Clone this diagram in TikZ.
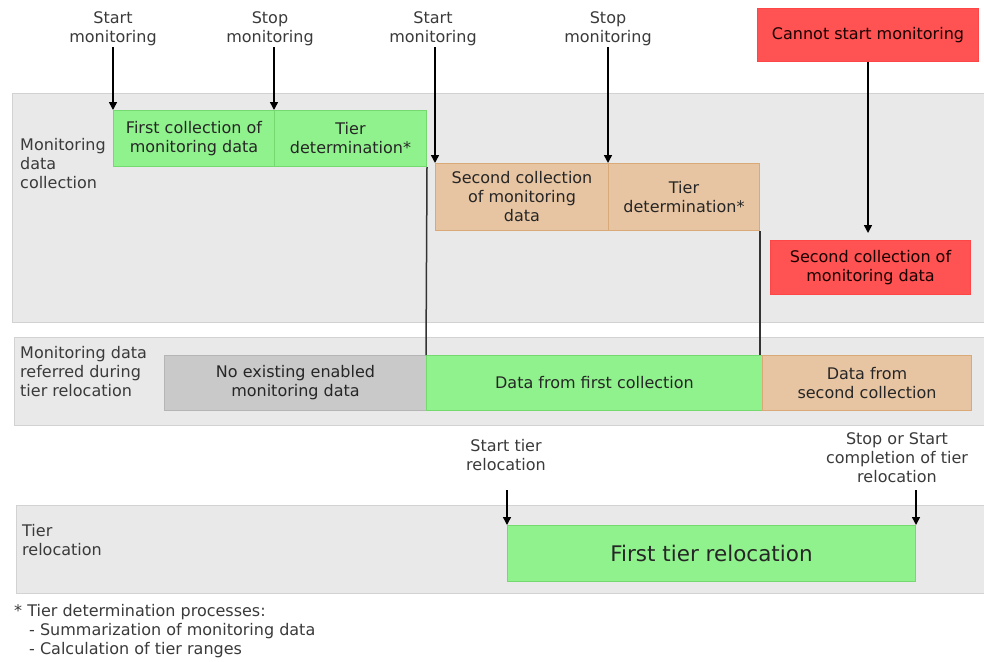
\documentclass[tikz,border=0pt]{standalone}
\usepackage{fontspec}
\setmainfont{DejaVu Sans}
\usetikzlibrary{arrows.meta}
\definecolor{bandfill}{HTML}{E9E9E9}
\definecolor{banddraw}{HTML}{D2D2D2}
\definecolor{gfill}{HTML}{90F28C}
\definecolor{gdraw}{HTML}{74DA70}
\definecolor{tfill}{HTML}{E8C5A2}
\definecolor{tdraw}{HTML}{D9A977}
\definecolor{rfill}{HTML}{FF5252}
\definecolor{rdraw}{HTML}{FF4646}
\definecolor{nfill}{HTML}{C9C9C9}
\definecolor{ndraw}{HTML}{B5B5B5}
\definecolor{txt}{HTML}{3A3A3A}
\begin{document}
\begin{tikzpicture}[x=1pt,y=-1pt,
  every node/.style={font=\fontsize{16}{19}\selectfont, text=txt},
  band/.style={draw=banddraw, fill=bandfill, line width=1.2pt, anchor=north west, inner sep=0pt},
  bx/.style={anchor=north west, inner sep=0pt, align=center, line width=1pt, text=black!85},
  gbox/.style={bx, fill=gfill, draw=gdraw},
  tbox/.style={bx, fill=tfill, draw=tdraw},
  rbox/.style={bx, fill=rfill, draw=rdraw, text=black!90!red},
  nbox/.style={bx, fill=nfill, draw=ndraw},
  lab/.style={align=center, inner sep=1pt},
  side/.style={align=left, anchor=north west, inner sep=0pt},
  arr/.style={-{Triangle[length=8pt,width=8pt]}, line width=1.5pt, black},
  vline/.style={line width=1.5pt, black!80}
]
\useasboundingbox (0,0) rectangle (984,661);
% bands
\node[band, minimum width=980pt, minimum height=229pt] (b1) at (12,93) {};
\node[band, minimum width=978pt, minimum height=88pt] (b2) at (14,337) {};
\node[band, minimum width=976pt, minimum height=88pt] (b3) at (16,505) {};
% side labels
\node[side] (s1) at (20,138) {Monitoring\\data\\collection};
\node[side] (s2) at (20,346) {Monitoring data\\referred during\\tier relocation};
\node[side] (s3) at (22,524) {Tier\\relocation};
% row 1 boxes
\node[gbox, minimum width=161pt, minimum height=56pt] (fc1) at (113,110) {First collection of\\monitoring data};
\node[gbox, minimum width=152pt, minimum height=56pt] (td1) at (274,110) {Tier\\determination*};
\node[tbox, minimum width=173pt, minimum height=67pt] (sc2) at (435,163) {Second collection\\of monitoring\\data};
\node[tbox, minimum width=151pt, minimum height=67pt] (td2) at (608,163) {Tier\\determination*};
\node[rbox, minimum width=221pt, minimum height=53pt] (cant) at (757,8) {Cannot start monitoring};
\node[rbox, minimum width=200pt, minimum height=54pt] (rsc) at (770,240) {Second collection of\\monitoring data};
% row 2 boxes
\node[nbox, minimum width=262pt, minimum height=55pt] (nod) at (164,355) {No existing enabled\\monitoring data};
\node[gbox, minimum width=336pt, minimum height=55pt] (df1) at (426,355) {Data from first collection};
\node[tbox, minimum width=209pt, minimum height=55pt] (df2) at (762,355) {Data from\\second collection};
% row 3 box
\node[gbox, minimum width=408pt, minimum height=56pt, font=\fontsize{21.5}{25}\selectfont] (ftr) at (507,525) {First tier relocation};
% top labels
\node[lab] (l1) at (113,29) {Start\\monitoring};
\node[lab] (l2) at (270,29) {Stop\\monitoring};
\node[lab] (l3) at (433,29) {Start\\monitoring};
\node[lab] (l4) at (608,29) {Stop\\monitoring};
\node[lab] (l5) at (506,455) {Start tier\\relocation};
\node[lab] (l6) at (897,458) {Stop or Start\\completion of tier\\relocation};
% arrows
\draw[arr] (l1.south -| fc1.north west) -- (fc1.north west);
\draw[arr] (l2.south -| td1.north west) -- (td1.north west);
\draw[arr] (l3.south -| sc2.north west) -- (sc2.north west);
\draw[arr] (l4.south -| td2.north west) -- (td2.north west);
\draw[arr] (cant.south) -- ([yshift=7pt]cant.south |- rsc.north);
\draw[arr] ([yshift=35pt]ftr.north west) -- (ftr.north west);
\draw[arr] ([yshift=35pt]ftr.north east) -- (ftr.north east);
% vertical lines
\draw[vline] (td1.south east) -- (df1.north west);
\draw[vline] (td2.south east) -- (td2.south east |- df1.north);
% footnote
\node[side, text=txt] (fn) at (14,604) {* Tier determination processes:\\\hspace*{15pt}- Summarization of monitoring data\\\hspace*{15pt}- Calculation of tier ranges};
\end{tikzpicture}
\end{document}
